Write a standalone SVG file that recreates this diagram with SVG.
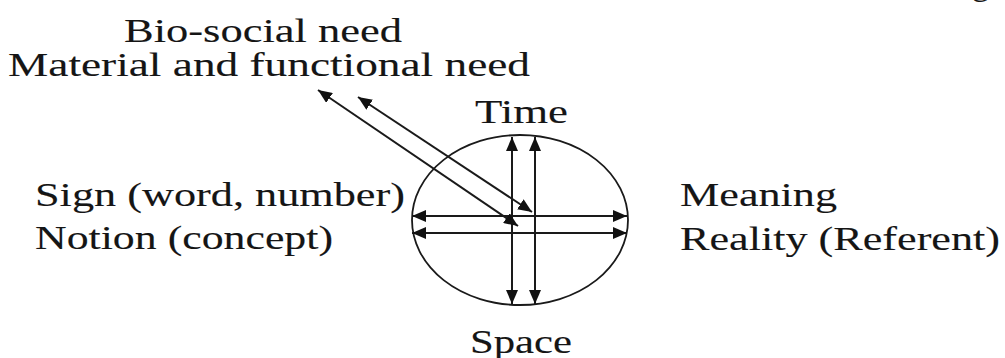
<svg xmlns="http://www.w3.org/2000/svg" width="1005" height="358" viewBox="0 0 1005 358">
<style>
text{font-size:34px;fill:#151515;stroke:#151515;stroke-width:0.12}
.ln{stroke:#1a1a1a;stroke-width:2;fill:none;marker-start:url(#ah);marker-end:url(#ah)}
</style>
<defs>
<marker id="ah" markerUnits="userSpaceOnUse" viewBox="0 0 14 12" refX="14" refY="6" markerWidth="14" markerHeight="12" orient="auto-start-reverse">
<path d="M0,0 L14,6 L0,12 Z" fill="#111"/>
</marker>
</defs>
<rect width="1005" height="358" fill="#fff"/>
<g id="circle"><ellipse cx="520" cy="220" rx="108" ry="85" fill="none" stroke="#1a1a1a" stroke-width="1.8"/></g>
<g id="connectors">
<line class="ln" x1="512" y1="137" x2="512" y2="304"/>
<line class="ln" x1="535" y1="137" x2="535" y2="304"/>
<line class="ln" x1="412" y1="216" x2="627" y2="216"/>
<line class="ln" x1="412" y1="233" x2="627" y2="233"/>
<line class="ln" x1="318" y1="90" x2="518" y2="226"/>
<line class="ln" x1="358" y1="97" x2="532" y2="212"/>
</g>
<g font-family="Liberation Serif, Tinos, Times New Roman, serif">
<g id="n-bio"><text x="124" y="42" textLength="278" lengthAdjust="spacingAndGlyphs">Bio-social need</text></g>
<g id="n-material"><text x="8" y="76" textLength="522" lengthAdjust="spacingAndGlyphs">Material and functional need</text></g>
<g id="n-time"><text x="475" y="123" textLength="93" lengthAdjust="spacingAndGlyphs">Time</text></g>
<g id="n-sign"><text x="35" y="206" textLength="370" lengthAdjust="spacingAndGlyphs">Sign (word, number)</text></g>
<g id="n-notion"><text x="35" y="249" textLength="298" lengthAdjust="spacingAndGlyphs">Notion (concept)</text></g>
<g id="n-meaning"><text x="680" y="206" textLength="157" lengthAdjust="spacingAndGlyphs">Meaning</text></g>
<g id="n-reality"><text x="680" y="250" textLength="320" lengthAdjust="spacingAndGlyphs">Reality (Referent)</text></g>
<g id="n-space"><text x="470" y="353" textLength="102" lengthAdjust="spacingAndGlyphs">Space</text></g>
<g id="n-corner"><text x="972" y="-5">g</text></g>
</g>
</svg>
